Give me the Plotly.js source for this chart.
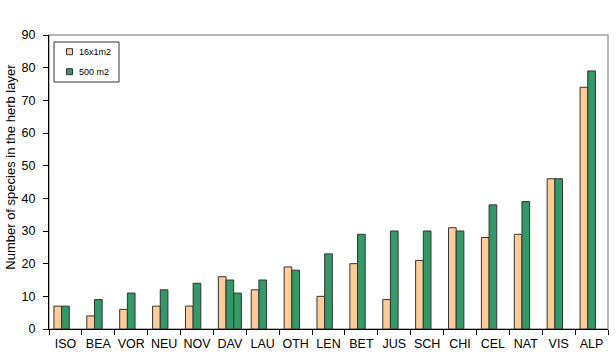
<!DOCTYPE html>
<html>
<head>
<meta charset="utf-8">
<script src="https://cdn.plot.ly/plotly-3.0.1.min.js"></script>
<style>html,body{margin:0;padding:0;background:#fff}#chart{width:616px;height:363px}</style>
</head>
<body>
<div id="chart"></div>
<script>
var categories = ["ISO","BEA","VOR","NEU","NOV","DAV","LAU","OTH","LEN","BET","JUS","SCH","CHI","CEL","NAT","VIS","ALP"];
var small16 = [7,4,6,7,7,16,12,19,10,20,9,21,31,28,29,46,74];
var big500 = [7,9,11,12,14,15,15,18,23,29,30,30,30,38,39,46,79];
var big500b = [null,null,null,null,null,11,null,null,null,null,null,null,null,null,null,null,null];
var seriesNames = ["16x1m2","500 m2"];
var yTitle = "Number of species in the herb layer";

var orange = "#FFCC99", green = "#339966", edge = "#333333";
var traces = [
  {type:"bar", x:categories, y:small16, name:seriesNames[0],
   marker:{color:orange, line:{color:edge, width:1}}},
  {type:"bar", x:categories, y:big500, name:seriesNames[1],
   marker:{color:green, line:{color:edge, width:1}}},
  {type:"bar", x:categories, y:big500b, name:seriesNames[1],
   marker:{color:green, line:{color:edge, width:1}}}
];

// plot area in pixels (for the hand-drawn legend box)
var L = 49, T = 35, W = 559, H = 294;
function px(x){ return (x - L) / W; }
function py(y){ return 1 - (y - T) / H; }

var legendColors = [orange, green];
var legendY = [51.7, 71.7];
var shapes = [
  {type:"rect", xref:"paper", yref:"paper", x0:0, x1:1, y0:0, y1:1,
   line:{color:"#A0A0A0", width:1.5}, layer:"below"},
  {type:"rect", xref:"paper", yref:"paper", x0:px(54), x1:px(119), y0:py(42), y1:py(82),
   line:{color:"#333333", width:1}, fillcolor:"#ffffff", layer:"above"}
];
var annotations = [
  {text:yTitle, xref:"paper", yref:"paper", x:0, y:0.552,
   xanchor:"center", yanchor:"middle", xshift:-38, textangle:-90,
   showarrow:false, font:{size:13}}
];
for (var i = 0; i < seriesNames.length; i++) {
  shapes.push({type:"rect", xref:"paper", yref:"paper",
    x0:px(66.5), x1:px(72.5), y0:py(legendY[i]-3), y1:py(legendY[i]+3),
    fillcolor:legendColors[i], line:{color:edge, width:1}, layer:"above"});
  annotations.push({text:seriesNames[i], xref:"paper", yref:"paper",
    x:px(77), y:py(legendY[i]), xanchor:"left", yanchor:"middle",
    showarrow:false, font:{size:9}});
}

var layout = {
  width:616, height:363,
  margin:{l:L, r:616-L-W, t:T, b:363-T-H},
  paper_bgcolor:"#ffffff", plot_bgcolor:"#ffffff",
  font:{family:"Arial, Liberation Sans, sans-serif", color:"#000"},
  barmode:"group", bargap:0.30, bargroupgap:0,
  showlegend:false,
  xaxis:{type:"category", categoryorder:"array", categoryarray:categories,
         showline:true, linecolor:"#000", linewidth:1, tickangle:0,
         ticks:"outside", ticklen:5, tickcolor:"#000", tickson:"boundaries",
         ticklabelstandoff:3,
         tickfont:{size:12.5}, showgrid:false, zeroline:false, fixedrange:true},
  yaxis:{range:[0,90], dtick:10, showline:true, linecolor:"#000", linewidth:1,
         ticks:"outside", ticklen:5, tickcolor:"#000", ticklabelstandoff:5,
         tickfont:{size:12.5}, showgrid:false, zeroline:false, fixedrange:true},
  shapes:shapes,
  annotations:annotations
};
Plotly.newPlot("chart", traces, layout, {displayModeBar:false, staticPlot:true});
</script>
</body>
</html>
